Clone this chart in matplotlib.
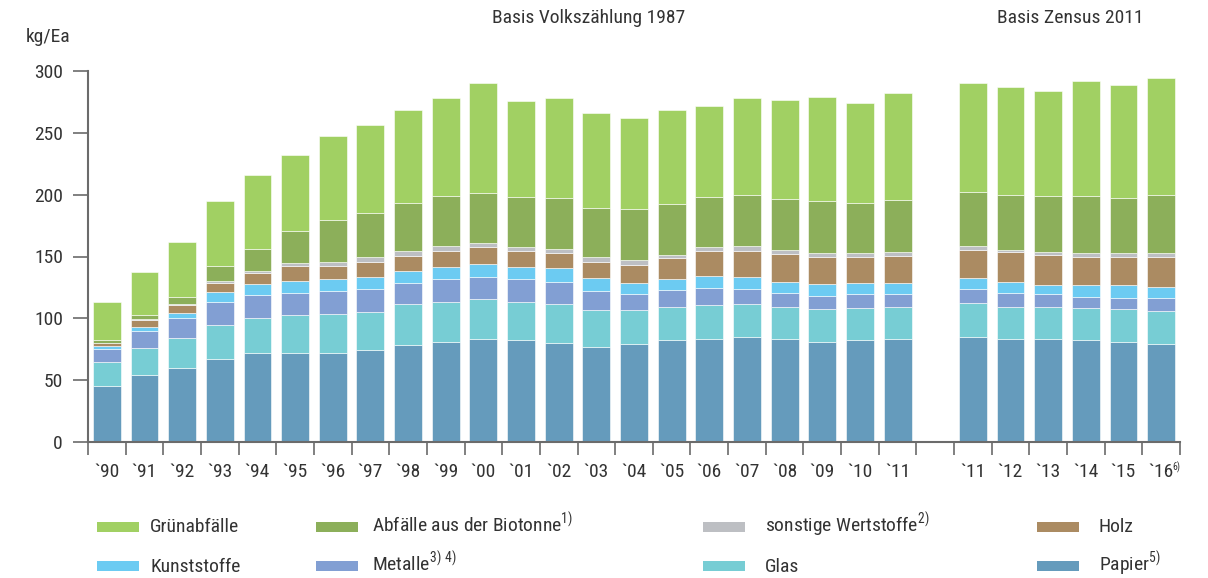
import matplotlib

matplotlib.use("Agg")
import matplotlib.pyplot as plt
from matplotlib import font_manager
from matplotlib.patches import Rectangle

# Jahre: alte Basis (VZ 1987) '90-'11, neue Basis (Zensus 2011) '11-'16
years_old = ["`90", "`91", "`92", "`93", "`94", "`95", "`96", "`97", "`98", "`99", "`00",
             "`01", "`02", "`03", "`04", "`05", "`06", "`07", "`08", "`09", "`10", "`11"]
years_new = ["`11", "`12", "`13", "`14", "`15", "`16"]

# kg je Einwohner, von unten nach oben gestapelt
papier = [45.5, 54.4, 60.1, 67.4, 72.2, 72.2, 72.2, 74.7, 78.7, 81.1, 83.6,
          82.7, 80.3, 77.1, 79.5, 82.7, 83.6, 85.2, 83.6, 81.1, 82.7, 83.6,
          85.2, 83.6, 83.6, 82.7, 81.1, 79.5]
glas = [19.5, 21.9, 24.3, 27.5, 28.3, 30.8, 31.6, 30.7, 33.2, 32.4, 32.3,
        30.8, 31.6, 29.9, 27.5, 26.7, 27.4, 26.7, 25.8, 26.7, 25.9, 25.8,
        27.5, 25.8, 25.8, 25.9, 26.7, 26.7]
metalle = [10.5, 13.7, 16.1, 18.6, 18.6, 17.8, 18.6, 18.6, 16.9, 18.6, 17.8,
           18.6, 17.7, 15.4, 12.9, 13.8, 13.8, 12.1, 11.4, 10.5, 11.3, 10.5,
           11.3, 11.4, 10.5, 8.9, 8.9, 10.5]
kunststoffe = [2.4, 3.3, 4.1, 8.1, 8.9, 9.7, 9.7, 9.7, 9.7, 9.7, 10.5,
               9.7, 11.4, 10.5, 8.9, 8.9, 9.7, 9.7, 8.8, 9.7, 8.9, 8.9,
               8.9, 8.8, 7.3, 9.7, 10.5, 8.9]
holz = [1.9, 5.6, 6.4, 7.2, 8.9, 12.1, 10.5, 12.1, 12.2, 12.9, 13.8,
        12.9, 12.1, 12.9, 14.6, 17.0, 20.2, 21.0, 22.7, 21.9, 21.1, 21.9,
        22.6, 24.3, 24.3, 22.7, 22.7, 24.3]
sonstige = [0.5, 0.8, 0.9, 1.7, 1.6, 2.4, 3.2, 4.1, 4.0, 4.1, 3.2,
            3.3, 3.2, 4.1, 4.0, 2.4, 3.3, 4.1, 3.2, 3.2, 3.2, 3.2,
            3.3, 1.6, 2.4, 3.2, 3.2, 3.2]
biotonne = [2.4, 3.3, 5.6, 12.1, 17.8, 25.9, 34.0, 35.5, 38.8, 40.4, 40.4,
            40.4, 41.3, 39.6, 41.3, 41.2, 40.4, 41.2, 41.3, 42.0, 40.4, 42.1,
            43.6, 44.5, 45.3, 46.1, 44.5, 46.9]
gruen = [30.8, 34.7, 44.5, 52.5, 59.9, 61.4, 67.9, 71.2, 75.2, 79.2, 89.0,
         77.6, 80.8, 76.8, 73.6, 76.0, 73.6, 78.4, 80.0, 84.1, 80.9, 86.5,
         88.2, 87.3, 84.9, 93.0, 91.4, 94.6]

series = [
    ("Papier$^{\\mathregular{5)}}$", papier, "#659bbc"),
    ("Glas", glas, "#77cdd4"),
    ("Metalle$^{\\mathregular{3)\\ 4)}}$", metalle, "#829fd3"),
    ("Kunststoffe", kunststoffe, "#6ccbf2"),
    ("Holz", holz, "#ab8b62"),
    ("sonstige Wertstoffe$^{\\mathregular{2)}}$", sonstige, "#bdbfc3"),
    ("Abfälle aus der Biotonne$^{\\mathregular{1)}}$", biotonne, "#8caf5a"),
    ("Grünabfälle", gruen, "#a1d063"),
]


def pick_font(names):
    for n in names:
        try:
            font_manager.findfont(n, fallback_to_default=False)
            return n
        except ValueError:
            pass
    return "DejaVu Sans"


FONT = pick_font(["Liberation Sans Narrow", "Roboto Condensed", "Liberation Sans"])
FS = 14 if "Narrow" in FONT or "Condensed" in FONT else 12
plt.rcParams["font.family"] = [FONT, "DejaVu Sans"]
TXT = "#333333"
AX = "#6b6b6b"

W, H = 1208, 578
fig = plt.figure(figsize=(W / 100, H / 100), dpi=100)
ax = fig.add_axes([88 / W, 1 - 442 / H, (1180 - 88) / W, (442 - 71) / H])

# Position 22 bleibt frei (Lücke zwischen den beiden Bezugsbasen)
pos = list(range(len(years_old))) + list(range(len(years_old) + 1, len(years_old) + 1 + len(years_new)))
bottom = [0.0] * len(pos)
for label, vals, color in series:
    ax.bar(pos, vals, width=0.74, bottom=bottom, color=color, edgecolor="white",
           linewidth=0.4)
    bottom = [b + v for b, v in zip(bottom, vals)]

ax.set_xlim(-0.5, len(pos) + 0.5)
ax.set_ylim(0, 300)
ax.set_yticks(range(0, 301, 50))
ax.set_xticks([p - 0.5 for p in range(len(pos) + 2)])
ax.set_xticklabels([])
ax.set_xticks(pos, minor=True)
ax.set_xticklabels(years_old + years_new, minor=True)
ax.tick_params(axis="x", which="minor", length=0, pad=15, labelsize=FS, labelcolor=TXT)
ax.tick_params(axis="x", which="major", length=9, width=1.2, color=AX, direction="out")
ax.tick_params(axis="y", length=11, width=1.2, color=AX, pad=7, labelsize=FS, labelcolor=TXT)

# Fußnote am letzten Jahr
ax.annotate("6)", xy=(pos[-1], 0), xycoords=("data", "axes fraction"),
            xytext=(8, -18), textcoords="offset points", fontsize=7,
            color=TXT, ha="left", va="center")

for s in ["top", "right"]:
    ax.spines[s].set_visible(False)
for s in ["left", "bottom"]:
    ax.spines[s].set_color(AX)
    ax.spines[s].set_linewidth(1.5)

fig.text(48 / W, 1 - 37 / H, "kg/Ea", ha="center", va="center", fontsize=FS, color=TXT)
fig.text(589 / W, 1 - 18 / H, "Basis Volkszählung 1987", ha="center", va="center",
         fontsize=FS, color=TXT)
fig.text(1070 / W, 1 - 18 / H, "Basis Zensus 2011", ha="center", va="center",
         fontsize=FS, color=TXT)

# Legende: zwei Zeilen, vier Spalten
legend_rows = [
    [series[7], series[6], series[5], series[4]],
    [series[3], series[2], series[1], series[0]],
]
col_x = [97, 316, 703, 1037]
text_x = [150, 372, 765, 1099]
row_y = [527, 566]
for r, row in enumerate(legend_rows):
    for c, (label, _, color) in enumerate(row):
        fig.add_artist(Rectangle((col_x[c] / W, 1 - (row_y[r] + 5) / H), 42 / W, 10 / H,
                                 transform=fig.transFigure, color=color, lw=0))
        fig.text(text_x[c] / W, 1 - (row_y[r] + 5.5) / H, label, ha="left", va="baseline",
                 fontsize=FS, color=TXT)

fig.savefig("out.png", dpi=100)
